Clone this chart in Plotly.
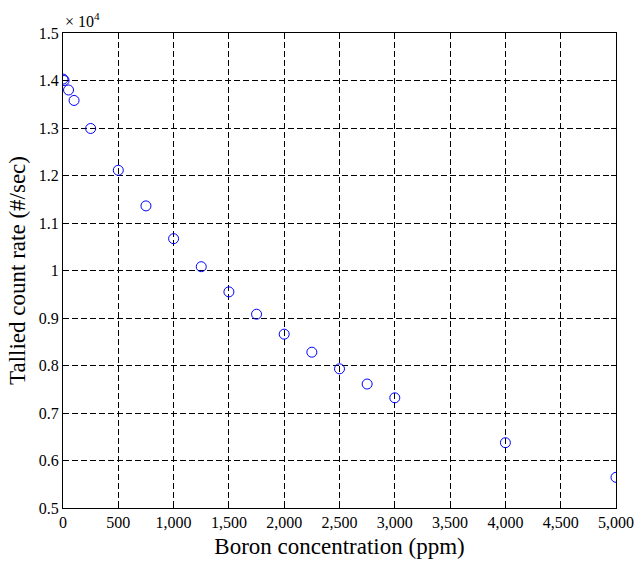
import plotly.graph_objects as go

# Boron concentration (ppm) and tallied count rate (#/sec)
boron_ppm = [0, 10, 50, 100, 250, 500, 750, 1000, 1250, 1500, 1750,
             2000, 2250, 2500, 2750, 3000, 4000, 5000]
count_rate = [14030, 14000, 13800, 13580, 12990, 12110, 11360, 10670, 10080,
              9550, 9080, 8660, 8280, 7930, 7610, 7320, 6375, 5646]

scale = 1e4
y_scaled = [v / scale for v in count_rate]

x_ticks = list(range(0, 5001, 500))
y_ticks = [0.5, 0.6, 0.7, 0.8, 0.9, 1.0, 1.1, 1.2, 1.3, 1.4, 1.5]
y_ticktext = ["0.5", "0.6", "0.7", "0.8", "0.9", "1", "1.1", "1.2", "1.3", "1.4", "1.5"]

font_family = "Liberation Serif, Times New Roman, serif"

fig = go.Figure()
fig.add_trace(go.Scatter(
    x=boron_ppm, y=y_scaled, mode="markers",
    marker=dict(symbol="circle-open", size=10, color="#0000FF",
                line=dict(width=1, color="#0000FF")),
    showlegend=False,
))

axis_common = dict(
    showline=True, linecolor="black", linewidth=1, mirror="ticks",
    ticks="inside", ticklen=5, tickcolor="black",
    showgrid=True, gridcolor="black", gridwidth=1, griddash="6px,3px",
    zeroline=False, automargin=False,
    tickfont=dict(family=font_family, size=16, color="black"),
)

fig.update_xaxes(
    range=[0, 5000], tickvals=x_ticks, tickformat=",d",
    title=dict(text="Boron concentration (ppm)",
               font=dict(family=font_family, size=23, color="black"),
               standoff=7),
    **axis_common,
)
fig.update_yaxes(
    range=[0.5, 1.5], tickvals=y_ticks, ticktext=y_ticktext,
    title=dict(text="Tallied count rate (#/sec)",
               font=dict(family=font_family, size=23, color="black"),
               standoff=6),
    **axis_common,
)

# Exponent multiplier above the y axis
fig.add_annotation(
    x=0, y=1.0, xref="paper", yref="paper", xanchor="left", yanchor="bottom",
    text="× 10<sup>4</sup>", showarrow=False, yshift=1,
    font=dict(family=font_family, size=16, color="black"),
)

fig.update_layout(
    width=638, height=562,
    margin=dict(l=63, r=22, t=33, b=54),
    paper_bgcolor="white", plot_bgcolor="white",
)

fig.write_html("out.html")
